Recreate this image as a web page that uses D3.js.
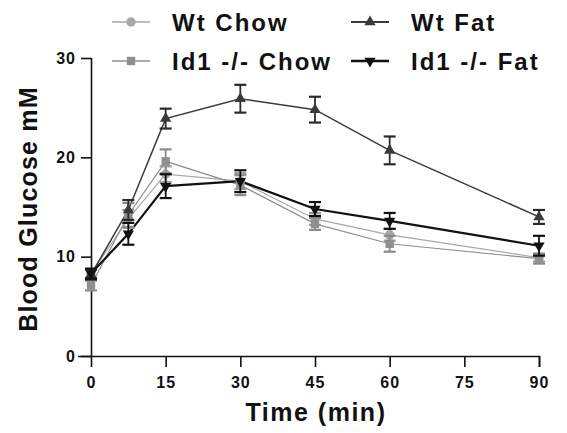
<!DOCTYPE html>
<html><head><meta charset="utf-8">
<script src="https://cdn.jsdelivr.net/npm/d3@7"></script>
<style>body{margin:0;background:#fff}svg{display:block}text{font-family:"Liberation Sans",Arial,sans-serif;font-weight:bold}</style>
</head><body>
<script>
const times = [0, 7.5, 15, 30, 45, 60, 90];
const xTicks = [0, 15, 30, 45, 60, 75, 90];
const yTicks = [0, 10, 20, 30];
const seriesNames = ["Wt Chow", "Id1 -/- Chow", "Wt Fat", "Id1 -/- Fat"];
const wtChow = [8.3, 13.8, 18.3, 17.6, 13.8, 12.2, 9.9];
const wtChowErr = [0.4, 0.9, 0.8, 0.8, 0.6, 0.6, 0.4];
const id1Chow = [7.1, 14.2, 19.6, 17.2, 13.3, 11.3, 9.8];
const id1ChowErr = [0.5, 1.2, 1.2, 1.0, 0.6, 0.8, 0.5];
const wtFat = [8.2, 14.7, 23.9, 25.9, 24.8, 20.7, 14.0];
const wtFatErr = [0.5, 1.0, 1.0, 1.4, 1.3, 1.4, 0.7];
const id1Fat = [8.3, 12.3, 17.1, 17.6, 14.8, 13.6, 11.1];
const id1FatErr = [0.5, 1.1, 1.2, 1.1, 0.7, 0.8, 1.0];

const W = 567, H = 433;
const svg = d3.select("body").append("svg").attr("width", W).attr("height", H);
const x = d3.scaleLinear().domain([0, 90]).range([91, 539]);
const y = d3.scaleLinear().domain([0, 30]).range([356, 58]);

const series = [
  {name: seriesNames[0], vals: wtChow, err: wtChowErr, color: "#a8a8a8", ecolor: "#9a9a9a", sym: d3.symbolCircle, lw: 1.2, size: 70},
  {name: seriesNames[1], vals: id1Chow, err: id1ChowErr, color: "#8f8f8f", ecolor: "#8a8a8a", sym: d3.symbolSquare, lw: 1.2, size: 70},
  {name: seriesNames[2], vals: wtFat, err: wtFatErr, color: "#3a3a3a", ecolor: "#2a2a2a", sym: d3.symbolTriangle, lw: 1.5, size: 55},
  {name: seriesNames[3], vals: id1Fat, err: id1FatErr, color: "#111", ecolor: "#111", sym: d3.symbolTriangle, lw: 2.2, size: 55, flip: true}
];

// axes
const yAx = svg.append("g").attr("transform", "translate(91,0)")
  .call(d3.axisLeft(y).tickValues(yTicks).tickSize(10).tickPadding(5));
const xAx = svg.append("g").attr("transform", "translate(0,356)")
  .call(d3.axisBottom(x).tickValues(xTicks).tickSize(11).tickPadding(10));
[yAx, xAx].forEach(g => {
  g.select(".domain").attr("stroke", "#111").attr("stroke-width", 1.6);
  g.selectAll(".tick line").attr("stroke", "#111").attr("stroke-width", 1.6);
  g.selectAll(".tick text").attr("fill", "#111").style("font-size", "16px").style("font-weight", "bold")
    .style("letter-spacing", "1px")
    .style("font-family", "'Liberation Sans',Arial,sans-serif");
});
xAx.select(".domain").attr("d", "M78,0.5H539.5V11");
yAx.select(".domain").attr("d", "M0.5,58V356");

svg.append("text").attr("x", 316).attr("y", 421).attr("text-anchor", "middle")
  .style("font-size", "25px").style("letter-spacing", "1.5px").attr("fill", "#111").text("Time (min)");
svg.append("text").attr("transform", "translate(37,209) rotate(-90)").attr("text-anchor", "middle")
  .style("font-size", "25px").style("letter-spacing", "1.2px").attr("fill", "#111").text("Blood Glucose mM");

const line = d3.line().x((d, i) => x(times[i])).y(d => y(d));

// lines
series.forEach(s => {
  svg.append("path").datum(s.vals).attr("d", line).attr("fill", "none")
    .attr("stroke", s.color).attr("stroke-width", s.lw);
});
// error bars and markers
series.forEach(s => {
  const g = svg.append("g");
  s.vals.forEach((v, i) => {
    const cx = x(times[i]);
    const e = s.err[i];
    g.append("line").attr("x1", cx).attr("x2", cx).attr("y1", y(v + e)).attr("y2", y(v - e))
      .attr("stroke", s.ecolor).attr("stroke-width", 1.8);
    [v + e, v - e].forEach(t => g.append("line").attr("x1", cx - 6).attr("x2", cx + 6)
      .attr("y1", y(t)).attr("y2", y(t)).attr("stroke", s.ecolor).attr("stroke-width", 2.2));
    g.append("path").attr("d", d3.symbol().type(s.sym).size(s.size)())
      .attr("transform", `translate(${cx},${y(v)})` + (s.flip ? " rotate(180)" : ""))
      .attr("fill", s.color);
  });
});

// legend
const legPos = [[131, 22], [131, 61], [370, 22], [370, 61]];
series.forEach((s, i) => {
  const [lx, ly] = legPos[i];
  const g = svg.append("g");
  g.append("line").attr("x1", lx - 19).attr("x2", lx + 19).attr("y1", ly).attr("y2", ly)
    .attr("stroke", s.color).attr("stroke-width", s.lw + 0.5);
  g.append("path").attr("d", d3.symbol().type(s.sym).size(s.size)())
    .attr("transform", `translate(${lx},${ly})` + (s.flip ? " rotate(180)" : ""))
    .attr("fill", s.color);
  g.append("text").attr("x", lx + 41).attr("y", ly + 9).style("font-size", "24px")
    .style("letter-spacing", "2px").attr("fill", "#111").text(s.name);
});
</script>
</body></html>
